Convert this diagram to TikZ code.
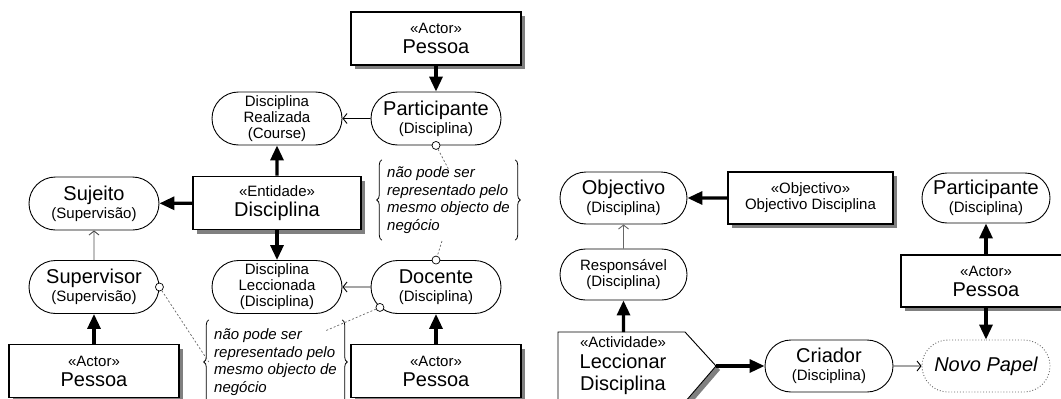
\documentclass[tikz,border=0pt]{standalone}
\usepackage{fontspec}
\setmainfont{Liberation Sans}
\usetikzlibrary{arrows.meta,shapes.misc,shadows,decorations.pathreplacing}

\newcommand{\lblbig}{\fontsize{20}{22}\selectfont}
\newcommand{\lblsmall}{\fontsize{15}{16}\selectfont}
\newcommand{\lblnote}{\fontsize{15}{17.5}\selectfont\itshape}

\begin{document}
\begin{tikzpicture}
[x=1pt,y=-1pt,
actor/.style={draw,line width=1.6pt,fill=white,minimum width=170pt,minimum height=53pt,
	inner sep=0pt,align=center,font=\lblsmall,
	drop shadow={shadow xshift=4pt,shadow yshift=-4pt,fill=black!50,opacity=1}},
role/.style={draw,line width=0.9pt,fill=white,rounded rectangle,minimum width=130pt,
	minimum height=53pt,inner sep=0pt,align=center,font=\lblsmall},
note/.style={align=left,font=\lblnote,minimum width=133pt,inner xsep=5pt,inner ysep=0pt},
hole/.style={draw,circle,fill=white,inner sep=0pt,minimum size=8pt,line width=0.7pt},
strong/.style={line width=3.2pt,-{Triangle[length=15pt,width=13pt]}},
weak/.style={line width=0.9pt,-{Straight Barb[length=4pt,width=10pt]}},
link/.style={black!60,line width=0.7pt,dash pattern=on 2pt off 2pt},
curly/.style={decorate,decoration={brace,amplitude=5pt},line width=0.8pt}]

\useasboundingbox (0,0) rectangle (1061,399);
\clip (0,0) rectangle (1061,399);

\node[actor] (pTop) at (436,38.5) {«Actor»\\[4pt]{\lblbig Pessoa}};
\node[role] (partL) at (436,118.5) {{\lblbig Participante}\\[2pt](Disciplina)};
\node[role] (realiz) at (277,118.5) {Disciplina\\Realizada\\(Course)};
\node[actor,minimum width=168pt] (entid) at (277,203) {«Entidade»\\[4pt]{\lblbig Disciplina}};
\node[role] (sujeito) at (94,203.5) {{\lblbig Sujeito}\\[2pt](Supervisão)};
\node[role] (superv) at (94,287) {{\lblbig Supervisor}\\[2pt](Supervisão)};
\node[actor] (pBL) at (94,371) {«Actor»\\[4pt]{\lblbig Pessoa}};
\node[role] (lecc) at (277,287) {Disciplina\\Leccionada\\(Disciplina)};
\node[role] (docente) at (436,287) {{\lblbig Docente}\\[2pt](Disciplina)};
\node[actor] (pBR) at (436,371) {«Actor»\\[4pt]{\lblbig Pessoa}};

\node[note,minimum height=80pt] (note1) at (448.5,200)
	{não pode ser\\representado pelo\\mesmo objecto de\\negócio};
\node[note,minimum height=84pt] (note2) at (275.5,362)
	{não pode ser\\representado pelo\\mesmo objecto de\\negócio};
\draw[curly] (note1.south west) -- (note1.north west);
\draw[curly] (note1.north east) -- (note1.south east);
\draw[curly] (note2.south west) -- (note2.north west);
\draw[curly] (note2.north east) -- (note2.south east);

\draw[strong] (pTop) -- (partL);
\draw[weak] (partL) -- (realiz);
\draw[strong] (entid) -- (realiz);
\draw[strong] (entid) -- (sujeito);
\draw[strong] (entid) -- (lecc);
\draw[weak,black!70] (superv) -- (sujeito);
\draw[strong] (pBL) -- (superv);
\draw[weak] (docente) -- (lecc);
\draw[strong] (pBR) -- (docente);

\node[hole] (c1) at (partL.south) {};
\node[hole] (c2) at (docente.north) {};
\node[hole] (c3) at (superv.east) {};
\node[hole] (c4) at (docente.200) {};
\coordinate (n1a) at (449,170);
\coordinate (n1b) at (442,241);
\coordinate (n2a) at (325,331);
\draw[link] (c1) -- (n1a);
\draw[link] (n1b) -- (c2);
\draw[link] (c3) -- (note2.west);
\draw[link] (c4) -- (n2a);

\node[role,minimum width=127pt,minimum height=52pt] (objectivo) at (623.5,198)
	{{\lblbig Objectivo}\\[2pt](Disciplina)};
\node[actor,minimum width=165pt,minimum height=52pt] (objD) at (810.5,198)
	{«Objectivo»\\Objectivo Disciplina};
\node[role,minimum width=127pt,minimum height=51pt] (resp) at (623.5,274.5)
	{Responsável\\(Disciplina)};

\coordinate (leccTop) at (623.5,332);
\coordinate (leccTip) at (716,366);
\filldraw[fill=white,line width=0.9pt,
	drop shadow={shadow xshift=4pt,shadow yshift=-4pt,fill=black!50,opacity=1}]
	(558,332) -- (685,332) -- (leccTip) -- (685,402) -- (558,402) -- cycle;
\node[align=center,font=\lblsmall] (leccion) at (623,366)
	{«Actividade»\\[5pt]{\lblbig Leccionar}\\[6pt]{\lblbig Disciplina}};

\node[role,minimum width=128pt,minimum height=52pt] (criador) at (829,366)
	{{\lblbig Criador}\\[2pt](Disciplina)};
\node[role,minimum width=128pt,minimum height=50pt] (partR) at (986,198)
	{{\lblbig Participante}\\[2pt](Disciplina)};
\node[actor,minimum height=52pt] (pR) at (986,281) {«Actor»\\[4pt]{\lblbig Pessoa}};
\node[role,minimum width=128pt,minimum height=52pt,draw=black!60,dotted] (novo) at (986,366)
	{\lblbig\itshape Novo Papel};

\draw[strong] (objD) -- (objectivo);
\draw[weak,black!60] (resp) -- (objectivo);
\draw[strong] (leccTop) -- (resp);
\draw[strong] (leccTip) -- (criador);
\draw[weak] (criador) -- (novo);
\draw[strong] (pR) -- (partR);
\draw[strong] (pR) -- (novo);

\end{tikzpicture}
\end{document}
